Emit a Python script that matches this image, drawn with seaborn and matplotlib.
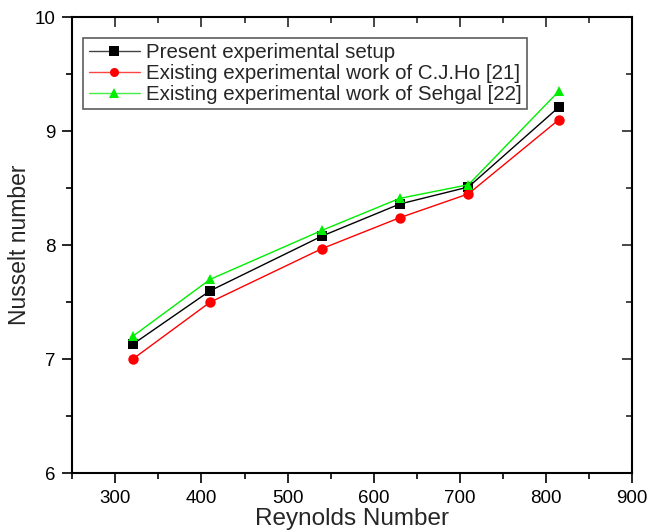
import seaborn as sns
import matplotlib.pyplot as plt
import matplotlib
import pandas as pd
from matplotlib.ticker import MultipleLocator
matplotlib.use('Agg')

# data
reynolds = [320, 410, 540, 630, 710, 815]
present = [7.13, 7.60, 8.08, 8.36, 8.51, 9.21]
cjho = [7.00, 7.50, 7.97, 8.24, 8.45, 9.10]
sehgal = [7.20, 7.70, 8.13, 8.41, 8.53, 9.35]

series_names = ["Present experimental setup",
                "Existing experimental work of C.J.Ho [21]",
                "Existing experimental work of Sehgal [22]"]

df = pd.DataFrame({
    "Re": reynolds * 3,
    "Nu": present + cjho + sehgal,
    "series": [series_names[0]] * 6 + [series_names[1]] * 6 + [series_names[2]] * 6,
})

sns.set_theme(style="ticks")
plt.rcParams['font.family'] = ['Liberation Sans', 'DejaVu Sans']

fig = plt.figure(figsize=(6.57, 5.32), dpi=100)
ax = fig.add_axes([0.110, 0.1103, 0.852, 0.8577])

palette = {series_names[0]: "black", series_names[1]: "#ff0000", series_names[2]: "#00ee00"}
markers = {series_names[0]: "s", series_names[1]: "o", series_names[2]: "^"}
line_cols = {series_names[0]: "#444444", series_names[1]: "#ff4444", series_names[2]: "#44ee44"}
msize = {series_names[0]: 7, series_names[1]: 8, series_names[2]: 8.5}

sns.lineplot(data=df, x="Re", y="Nu", hue="series", style="series",
             palette=palette, markers=markers, dashes=False,
             linewidth=1, markersize=7.5, markeredgewidth=0, ax=ax)

# thinner, lighter connecting lines like the original
for line in ax.lines:
    lab = line.get_label()
    if lab in line_cols:
        line.set_color(line_cols[lab])
        line.set_markerfacecolor(palette[lab])
        line.set_markeredgecolor(palette[lab])
        line.set_markersize(msize[lab])

ax.set_xlim(250, 900)
ax.set_ylim(6, 10)
ax.xaxis.set_major_locator(MultipleLocator(100))
ax.xaxis.set_minor_locator(MultipleLocator(50))
ax.yaxis.set_major_locator(MultipleLocator(1))
ax.yaxis.set_minor_locator(MultipleLocator(0.5))
ax.tick_params(which='both', direction='out', top=False, right=False, colors='black')
ax.tick_params(which='major', length=7, width=1.2, labelsize=13.5, pad=5)
ax.tick_params(which='minor', length=4, width=1.2)

# inward ticks on top and right
sec_x = ax.secondary_xaxis('top')
sec_x.xaxis.set_major_locator(MultipleLocator(100))
sec_x.xaxis.set_minor_locator(MultipleLocator(50))
sec_x.tick_params(which='both', direction='in', labeltop=False, width=1.2)
sec_x.tick_params(which='major', length=7)
sec_x.tick_params(which='minor', length=4)
sec_y = ax.secondary_yaxis('right')
sec_y.yaxis.set_major_locator(MultipleLocator(1))
sec_y.yaxis.set_minor_locator(MultipleLocator(0.5))
sec_y.tick_params(which='both', direction='in', labelright=False, width=1.2)
sec_y.tick_params(which='major', length=7)
sec_y.tick_params(which='minor', length=4)

for sp in ax.spines.values():
    sp.set_linewidth(1.5)
    sp.set_color('black')
sec_x.spines['top'].set_visible(False)
sec_y.spines['right'].set_visible(False)

ax.set_xlabel("Reynolds Number", fontsize=17.5, labelpad=1)
ax.set_ylabel("Nusselt number", fontsize=16.5, labelpad=3)

leg = ax.legend(loc='upper left', bbox_to_anchor=(0.02, 0.955), fontsize=14.8,
                frameon=True, fancybox=False, edgecolor='#333333',
                handlelength=2.5, handletextpad=0.3, borderpad=0.25,
                labelspacing=0.1, borderaxespad=0)
leg.get_frame().set_linewidth(1.2)
for h in leg.legend_handles:
    h.set_markersize(6.5)

plt.savefig('out.png', dpi=100)
